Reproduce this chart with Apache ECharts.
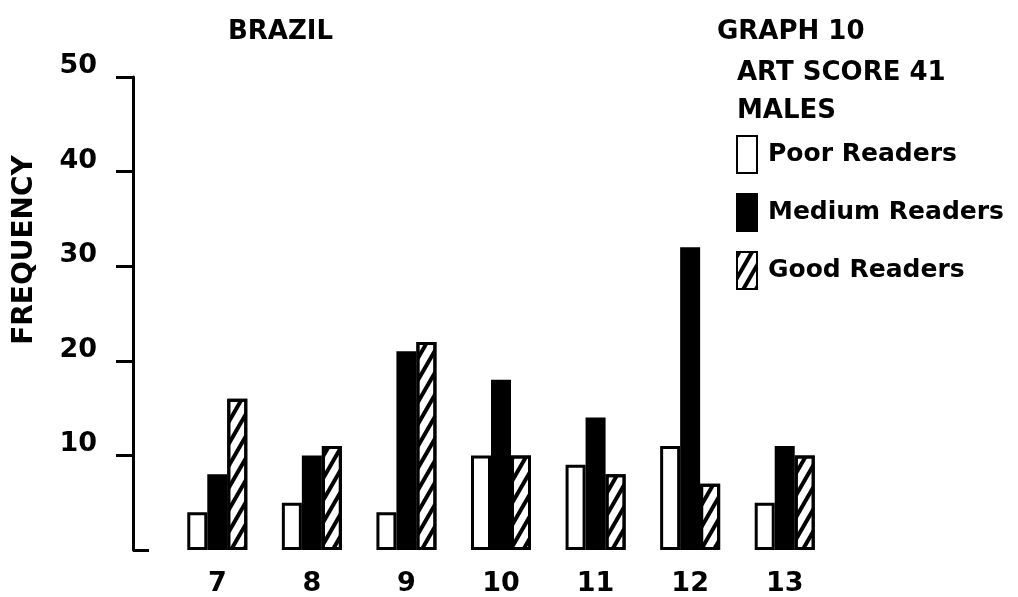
<!DOCTYPE html>
<html>
<head>
<meta charset="utf-8">
<script src="https://cdn.jsdelivr.net/npm/echarts@6/dist/echarts.min.js"></script>
<style>
  html, body { margin: 0; padding: 0; background: #fff; }
  #chart { width: 1018px; height: 597px; }
</style>
</head>
<body>
<div id="chart"></div>
<script>
// reading age categories and frequencies
const categories = ['7', '8', '9', '10', '11', '12', '13'];
const poorReaders = [4, 5, 4, 10, 9, 11, 5];
const mediumReaders = [8, 10, 21, 18, 14, 32, 11];
const goodReaders = [16, 11, 22, 10, 8, 7, 10];
const yTicks = [10, 20, 30, 40, 50];

const FONT = 'DejaVu Sans';
const INK = '#000';

const chart = echarts.init(document.getElementById('chart'), null, { renderer: 'canvas' });

const barBase = {
  type: 'bar',
  barWidth: 20,
  barGap: '0%',
  animation: false,
};

const heading = (text, left, top) => ({
  type: 'text', left, top,
  style: { text, fontFamily: FONT, fontSize: 26, fontWeight: 'bold', fill: INK },
});

chart.setOption({
  animation: false,
  backgroundColor: '#fff',
  grid: { left: 170, right: 186, top: 77, bottom: 47, containLabel: false },
  legend: {
    orient: 'vertical',
    left: 736,
    top: 135,
    padding: 0,
    icon: 'rect',
    itemWidth: 20,
    itemHeight: 37,
    itemGap: 19,
    selectedMode: false,
    textStyle: { fontFamily: FONT, fontSize: 25, fontWeight: 'bold', color: INK, padding: [0, 0, 0, 6] },
    data: ['Poor Readers', 'Medium Readers', 'Good Readers'],
  },
  xAxis: {
    type: 'category',
    data: categories,
    axisLine: { show: false },
    axisTick: { show: false },
    axisLabel: { fontFamily: FONT, fontSize: 27, fontWeight: 'bold', color: INK, margin: 20 },
  },
  yAxis: [
    {
      type: 'value',
      min: 0,
      max: 50,
      interval: 10,
      offset: 37,
      axisLine: { show: true, lineStyle: { color: INK, width: 3 } },
      axisTick: { show: true, length: 17, customValues: yTicks, lineStyle: { color: INK, width: 3 } },
      axisLabel: {
        fontFamily: FONT, fontSize: 27, fontWeight: 'bold', color: INK, margin: 36,
        customValues: yTicks,
        verticalAlign: 'bottom',
        lineHeight: 22,
      },
      splitLine: { show: false },
    },
    {
      // the short foot at the bottom of the axis
      type: 'value',
      min: 0,
      max: 50,
      position: 'left',
      offset: 37,
      axisLine: { show: false },
      axisTick: { show: true, inside: true, length: 16, customValues: [0], lineStyle: { color: INK, width: 3 } },
      axisLabel: { show: false },
      splitLine: { show: false },
    },
  ],
  graphic: [
    heading('BRAZIL', 228, 19),
    heading('GRAPH 10', 717, 19),
    heading('ART SCORE 41', 737, 60),
    heading('MALES', 737, 98),
    {
      type: 'text', x: 25, y: 250, rotation: Math.PI / 2,
      style: { text: 'FREQUENCY', fontFamily: FONT, fontSize: 28, fontWeight: 'bold', fill: INK, align: 'center', verticalAlign: 'middle' },
    },
  ],
  series: [
    {
      ...barBase,
      name: 'Poor Readers',
      data: poorReaders,
      itemStyle: { color: '#fff', borderColor: INK, borderWidth: 3 },
    },
    {
      ...barBase,
      name: 'Medium Readers',
      data: mediumReaders,
      itemStyle: { color: INK, borderColor: INK, borderWidth: 3 },
    },
    {
      ...barBase,
      name: 'Good Readers',
      data: goodReaders,
      itemStyle: {
        color: '#fff',
        borderColor: INK,
        borderWidth: 3,
        decal: {
          symbol: 'rect',
          color: INK,
          dashArrayX: [1, 0],
          dashArrayY: [4, 7],
          rotation: -Math.PI / 3,
        },
      },
    },
  ],
});
</script>
</body>
</html>
